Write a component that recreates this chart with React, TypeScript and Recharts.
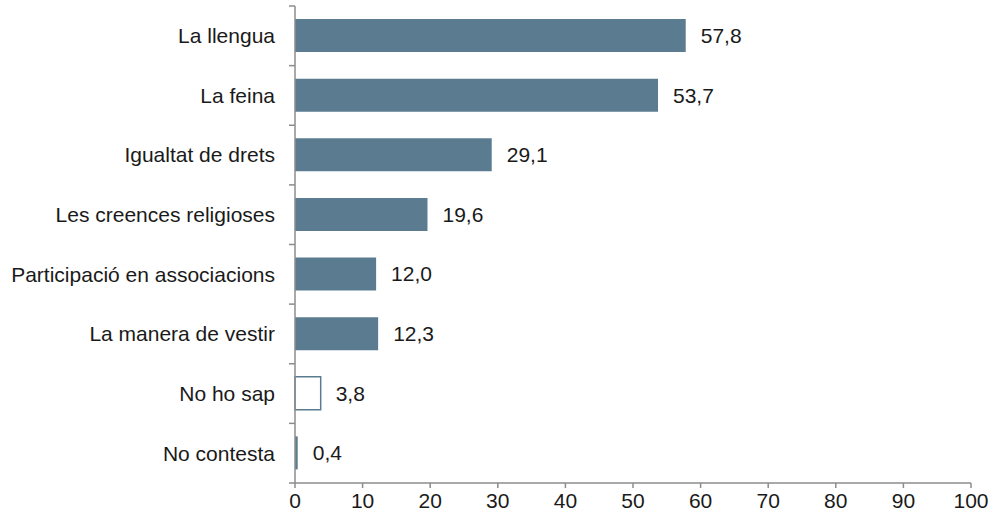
import { BarChart, Bar, XAxis, YAxis, Cell, LabelList } from 'recharts';

const categories = [
  'La llengua',
  'La feina',
  'Igualtat de drets',
  'Les creences religioses',
  'Participació en associacions',
  'La manera de vestir',
  'No ho sap',
  'No contesta',
];
const values = [57.8, 53.7, 29.1, 19.6, 12.0, 12.3, 3.8, 0.4];
const xTicks = [0, 10, 20, 30, 40, 50, 60, 70, 80, 90, 100];

const BAR = '#5b7c90';
const AXIS = '#8c8c8c';
const FONT = 'Liberation Sans, Arial, sans-serif';

const data = categories.map((name, i) => ({ name, value: values[i] }));

const CHART_W = 994;
const CHART_H = 520;
const M_TOP = 6;
const M_BOTTOM = 7;
const X_AXIS_H = 30;
const Y_AXIS_W = 295;
const band = (CHART_H - M_TOP - M_BOTTOM - X_AXIS_H) / categories.length;

const CatTick = (props: any) => {
  const { x, y, payload, index } = props;
  const axisX = Y_AXIS_W;
  const top = y - band / 2;
  return (
    <g>
      <line x1={axisX - 6} x2={axisX} y1={top} y2={top} stroke={AXIS} strokeWidth={1.5} />
      {index === categories.length - 1 && (
        <line x1={axisX - 6} x2={axisX} y1={y + band / 2} y2={y + band / 2} stroke={AXIS} strokeWidth={1.5} />
      )}
      <text x={x - 12} y={y} dy="0.35em" textAnchor="end" fill="#1a1a1a" fontSize={21} fontFamily={FONT}>
        {payload.value}
      </text>
    </g>
  );
};

const fmt = (v: any) => Number(v).toFixed(1).replace('.', ',');

export default function App() {
  return (
    <div style={{ position: 'absolute', left: 0, top: 0, background: '#fff' }}>
      <BarChart
        width={CHART_W}
        height={CHART_H}
        data={data}
        layout="vertical"
        margin={{ top: M_TOP, right: 23, left: 0, bottom: M_BOTTOM }}
      >
        <XAxis
          type="number"
          domain={[0, 100]}
          ticks={xTicks}
          interval={0}
          height={X_AXIS_H}
          axisLine={{ stroke: AXIS, strokeWidth: 1.5 }}
          tickLine={{ stroke: AXIS, strokeWidth: 1.5 }}
          tickSize={5}
          tickMargin={5}
          tick={{ fill: '#1a1a1a', fontSize: 21, fontFamily: FONT }}
        />
        <YAxis
          type="category"
          dataKey="name"
          width={Y_AXIS_W}
          axisLine={{ stroke: AXIS, strokeWidth: 1.5 }}
          tickLine={false}
          interval={0}
          tick={<CatTick />}
        />
        <Bar dataKey="value" barSize={33} isAnimationActive={false}>
          {data.map((d, i) => (
            <Cell
              key={`bar-${i}`}
              fill={d.name === 'No ho sap' ? '#ffffff' : BAR}
              stroke={d.name === 'No ho sap' ? BAR : 'none'}
              strokeWidth={1.5}
            />
          ))}
          <LabelList
            dataKey="value"
            position="right"
            offset={15}
            formatter={fmt}
            fill="#1a1a1a"
            fontSize={21}
            fontFamily={FONT}
          />
        </Bar>
      </BarChart>
    </div>
  );
}
